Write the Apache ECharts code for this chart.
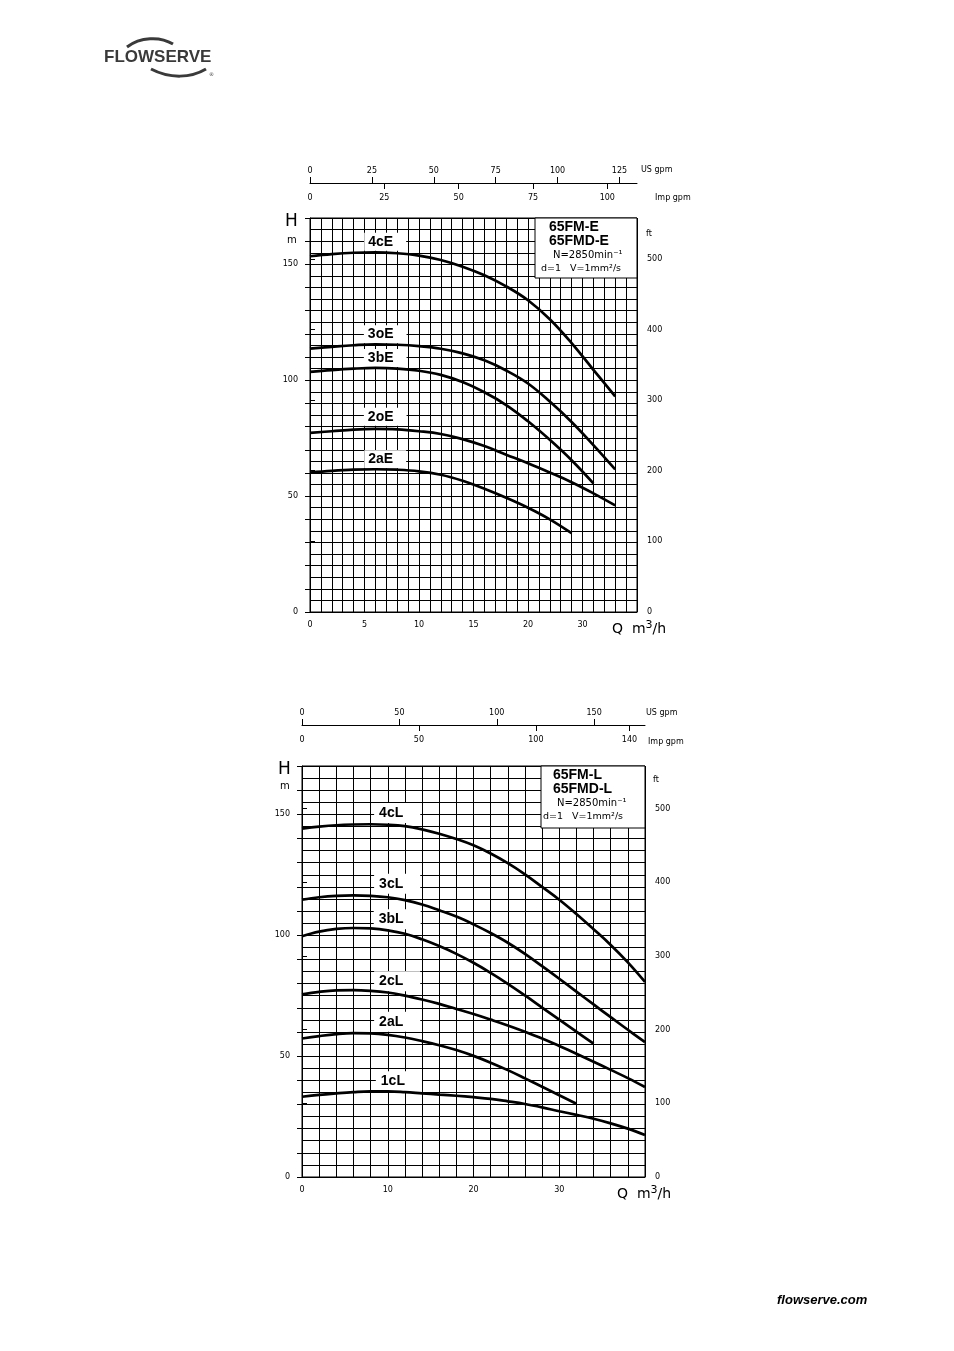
<!DOCTYPE html>
<html>
<head>
<meta charset="utf-8">
<script src="https://cdn.jsdelivr.net/npm/echarts@6/dist/echarts.min.js"></script>
<style>
html,body{margin:0;padding:0;background:#fff;}
#c{width:954px;height:1351px;}
</style>
</head>
<body>
<div id="c"></div>
<script>
// ---------- DATA ----------
// Upper chart: 65FM-E / 65FMD-E  (Q in m3/h, H in m)
const qE = [0, 2, 4, 6, 8, 10, 12, 14, 16, 18, 20, 22, 24, 26, 28];
const h4cE = [153.5, 154.4, 155.0, 155.2, 154.8, 153.8, 151.9, 149.0, 145.3, 140.5, 134.5, 126.3, 116.0, 104.5, 93.0];
const h3oE = [113.6, 114.4, 115.1, 115.5, 115.3, 114.7, 113.6, 111.6, 108.6, 104.2, 98.6, 90.8, 82.0, 72.0, 61.5];
const h3bE = [103.6, 104.4, 105.0, 105.3, 105.0, 104.1, 102.3, 99.2, 94.8, 89.3, 82.3, 74.3, 65.5, 55.5];
const h2oE = [77.3, 78.0, 78.7, 79.0, 78.8, 78.0, 76.8, 74.6, 71.6, 67.9, 64.2, 60.2, 56.0, 51.2, 46.0];
const h2aE = [60.2, 60.9, 61.4, 61.6, 61.4, 60.7, 59.2, 56.6, 53.2, 49.3, 45.0, 40.0, 34.0];
const namesE = ['4cE', '3oE', '3bE', '2oE', '2aE'];
const labelQE = [6.9, 6.9, 6.9, 6.9, 6.9];
const labelHE = [159.7, 119.8, 109.6, 84.2, 65.9];

// Lower chart: 65FM-L / 65FMD-L
const qL = [0, 2, 4, 6, 8, 10, 12, 14, 16, 18, 20, 22, 24, 26, 28, 30, 32, 34, 36, 38, 40];
const h4cL = [144.1, 144.9, 145.5, 145.8, 145.9, 145.7, 145.1, 143.8, 142.0, 139.8, 137.2, 133.8, 129.8, 125.2, 120.0, 114.7, 108.8, 102.5, 96.0, 88.8, 80.7];
const h3cL = [114.7, 115.7, 116.3, 116.5, 116.3, 115.7, 114.5, 112.7, 110.3, 107.7, 104.5, 100.9, 96.9, 92.3, 87.2, 82.0, 76.7, 71.4, 66.1, 60.9, 55.8];
const h3bL = [99.6, 101.5, 102.6, 103.0, 102.8, 102.0, 100.6, 98.3, 95.5, 92.3, 88.6, 84.4, 79.9, 75.1, 70.1, 65.1, 60.1, 55.2];
const h2cL = [75.6, 76.6, 77.2, 77.3, 77.0, 76.3, 75.0, 73.4, 71.6, 69.5, 67.4, 65.1, 62.7, 60.1, 57.3, 54.2, 51.0, 47.7, 44.3, 40.9, 37.2];
const h2aL = [57.3, 58.3, 59.1, 59.5, 59.4, 58.8, 57.7, 56.2, 54.5, 52.5, 50.1, 47.3, 44.2, 40.8, 37.3, 33.8, 30.3];
const h1cL = [33.2, 34.0, 34.6, 35.1, 35.4, 35.4, 35.1, 34.6, 34.1, 33.6, 33.0, 32.3, 31.3, 30.2, 28.8, 27.2, 25.7, 24.1, 22.2, 20.0, 17.4];
const namesL = ['4cL', '3cL', '3bL', '2cL', '2aL', '1cL'];
const labelQL = [11.1, 11.1, 11.1, 11.1, 11.1, 11.3];
const labelHL = [150.6, 121.3, 106.6, 81.0, 64.2, 39.6];

// Tick values / texts
const qTicksE = [0, 5, 10, 15, 20, 25];
const qTickTextE = ['0', '5', '10', '15', '20', '30'];
const usTicksE = [0, 25, 50, 75, 100, 125];
const impLabelsE = [0, 25, 50, 75, 100];
const impTicksE = [25, 50, 75, 100];
const qTicksL = [0, 10, 20, 30];
const usTicksL = [0, 50, 100, 150];
const impLabelsL = [0, 50, 100, 140];
const impTicksL = [50, 100, 140];
const hLabels = [0, 50, 100, 150];
const hTicks = [0, 10, 20, 30, 40, 50, 60, 70, 80, 90, 100, 110, 120, 130, 140, 150, 160, 170];
const ftTicks = [0, 100, 200, 300, 400, 500];

// unit conversions (axis ranges)
const US_GPM_PER_M3H = 4.4029;
const IMP_GPM_PER_M3H = 3.6662;
const M_PER_FT = 0.3048;
const Q_MAX_E = 30, Q_MAX_L = 40, H_MAX = 170;

// ---------- CHART ----------
const chart = echarts.init(document.getElementById('c'), null, {renderer: 'canvas', width: 954, height: 1351});
const FONT = 'DejaVu Sans';
const black = '#000';
const lblStyle = {color: black, fontSize: 8, fontFamily: FONT};
const zip = (q, h) => h.map((v, i) => [q[i], v]);

function qGridAxis(grid, max, interval, labelVals, labelTexts) {
  return {
    type: 'value', gridIndex: grid, position: 'bottom', min: 0, max: max, interval: interval,
    axisLine: {show: true, onZero: false, lineStyle: {color: black, width: 1}},
    axisTick: {show: false},
    axisLabel: Object.assign({customValues: labelVals, margin: 9,
      formatter: v => labelTexts[labelVals.indexOf(v)] ?? ''}, lblStyle),
    splitLine: {show: true, lineStyle: {color: black, width: 1}}
  };
}
function gpmAxis(grid, max, offset, labelVals, inside, showLine, tickVals) {
  return {
    type: 'value', gridIndex: grid, position: 'top', offset: offset, min: 0, max: max,
    axisLine: {show: showLine, onZero: false, lineStyle: {color: black, width: 1}},
    axisTick: {show: true, inside: inside, length: 6, customValues: tickVals, lineStyle: {color: black}},
    axisLabel: Object.assign({inside: inside, customValues: labelVals, margin: inside ? 11 : 8}, lblStyle),
    splitLine: {show: false}
  };
}
function hGridAxis(grid, interval) {
  return {
    type: 'value', gridIndex: grid, position: 'left', min: 0, max: H_MAX, interval: interval,
    axisLine: {show: true, onZero: false, lineStyle: {color: black}},
    axisTick: {show: false},
    axisLabel: {show: false},
    splitLine: {show: true, lineStyle: {color: black, width: 1}}
  };
}
function hTickAxis(grid) {
  return {
    type: 'value', gridIndex: grid, position: 'left', min: 0, max: H_MAX,
    axisLine: {show: false},
    axisTick: {show: true, length: 5, customValues: hTicks, lineStyle: {color: black}},
    axisLabel: Object.assign({customValues: hLabels, margin: 12}, lblStyle),
    splitLine: {show: false}
  };
}
function ftAxis(grid) {
  return {
    type: 'value', gridIndex: grid, position: 'right', min: 0, max: H_MAX / M_PER_FT,
    axisLine: {show: false},
    axisTick: {show: true, length: 5, customValues: ftTicks, lineStyle: {color: black}},
    axisLabel: Object.assign({customValues: ftTicks, margin: 10}, lblStyle),
    splitLine: {show: false}
  };
}

const curveStyle = {color: black, width: 2.7};
function curve(name, q, h, xi, yi) {
  return {type: 'line', name: name, xAxisIndex: xi, yAxisIndex: yi, data: zip(q, h),
    smooth: 0.4, symbol: 'none', lineStyle: curveStyle, itemStyle: {color: black}, z: 4, silent: true};
}
function labels(names, qs, hs, xi, yi, pad) {
  return {type: 'scatter', xAxisIndex: xi, yAxisIndex: yi, symbolSize: 0, z: 2, silent: true,
    itemStyle: {color: black, opacity: 1},
    data: names.map((n, i) => ({value: [qs[i], hs[i]], name: n})),
    label: {show: true, position: 'inside', formatter: p => p.name, color: black, opacity: 1,
      textBorderWidth: 0, textBorderColor: 'transparent',
      fontFamily: 'Liberation Sans', fontWeight: 'bold', fontSize: 14,
      backgroundColor: '#fff', padding: pad}};
}

const series = [
  labels(namesE, labelQE, labelHE, 0, 0, [2, 13, 2, 4]),
  curve('4cE', qE, h4cE, 0, 0), curve('3oE', qE, h3oE, 0, 0), curve('3bE', qE, h3bE, 0, 0),
  curve('2oE', qE, h2oE, 0, 0), curve('2aE', qE, h2aE, 0, 0),
  labels(namesL, labelQL, labelHL, 3, 3, [3, 17, 3, 5]),
  curve('4cL', qL, h4cL, 3, 3), curve('3cL', qL, h3cL, 3, 3), curve('3bL', qL, h3bL, 3, 3),
  curve('2cL', qL, h2cL, 3, 3), curve('2aL', qL, h2aL, 3, 3), curve('1cL', qL, h1cL, 3, 3)
];

function txt(x, y, text, size, extra) {
  return {type: 'text', x: x, y: y, z: 100,
    style: Object.assign({text: text, fill: black, fontSize: size, fontFamily: FONT, textVerticalAlign: 'middle'}, extra || {})};
}
function legendBox(x, y, w, h, l1, l2, tx, tx2) {
  return [
    {type: 'rect', z: 90, shape: {x: x, y: y, width: w, height: h}, style: {fill: '#fff', stroke: black, lineWidth: 1}},
    txt(tx, y + 9, l1, 14, {fontFamily: 'Liberation Sans', fontWeight: 'bold'}),
    txt(tx, y + 23, l2, 14, {fontFamily: 'Liberation Sans', fontWeight: 'bold'}),
    txt(tx + 4, y + 37, 'N=2850min⁻¹', 10),
    txt(tx2, y + 51, 'd=1   V=1mm²/s', 9.5)
  ];
}
function qName(x, y) {
  return {type: 'text', x: x, y: y, z: 100, style: {
    text: '{a|Q  m}{s|3}{a|/h}', fill: black, textVerticalAlign: 'middle',
    rich: {a: {fontSize: 14, fontFamily: FONT, fill: black, verticalAlign: 'bottom'},
           s: {fontSize: 11, fontFamily: FONT, fill: black, verticalAlign: 'top', padding: [0, 0, 6, 0]}}}};
}

const graphics = [].concat(
  [
    {type: 'text', x: 104, y: 57, z: 100, style: {text: 'FLOWSERVE', fill: '#3a3a3a', fontSize: 17, fontWeight: 'bold', fontFamily: 'Liberation Sans', textVerticalAlign: 'middle'}},
    {type: 'bezierCurve', z: 100, shape: {x1: 127, y1: 47, cpx1: 140, cpy1: 37, x2: 173, y2: 44, cpx2: 160, cpy2: 36}, style: {stroke: '#3a3a3a', lineWidth: 3, fill: null}},
    {type: 'bezierCurve', z: 100, shape: {x1: 151, y1: 69, cpx1: 170, cpy1: 79, x2: 206, y2: 69, cpx2: 191, cpy2: 78}, style: {stroke: '#3a3a3a', lineWidth: 3, fill: null}},
    {type: 'text', x: 209, y: 72, z: 100, style: {text: '®', fill: '#3a3a3a', fontSize: 5, fontFamily: FONT}},
    {type: 'text', x: 777, y: 1300, z: 100, style: {text: 'flowserve.com', fill: black, fontSize: 13, fontWeight: 'bold', fontStyle: 'italic', fontFamily: 'Liberation Sans', textVerticalAlign: 'middle'}}
  ],
  legendBox(535, 218, 102, 60, '65FM-E', '65FMD-E', 549, 541),
  [
    txt(285, 222, 'H', 17),
    txt(287, 240, 'm', 10),
    txt(646, 234, 'ft', 8),
    txt(641, 170, 'US gpm', 8),
    txt(655, 198, 'Imp gpm', 8),
    qName(612, 628)
  ],
  legendBox(541, 766, 104, 62, '65FM-L', '65FMD-L', 553, 543),
  [
    txt(278, 770, 'H', 17),
    txt(280, 786, 'm', 10),
    txt(653, 780, 'ft', 8),
    txt(646, 713, 'US gpm', 8),
    txt(648, 742, 'Imp gpm', 8),
    qName(617, 1193)
  ]
);

chart.setOption({
  animation: false,
  backgroundColor: '#fff',
  grid: [
    {left: 310, top: 218, width: 327, height: 394, show: true, borderColor: black, borderWidth: 1, backgroundColor: 'transparent'},
    {left: 302, top: 766, width: 343, height: 411, show: true, borderColor: black, borderWidth: 1, backgroundColor: 'transparent'}
  ],
  xAxis: [
    qGridAxis(0, Q_MAX_E, 1, qTicksE, qTickTextE),
    gpmAxis(0, Q_MAX_E * US_GPM_PER_M3H, 35, usTicksE, false, true, usTicksE),
    gpmAxis(0, Q_MAX_E * IMP_GPM_PER_M3H, 35, impLabelsE, true, false, impTicksE),
    qGridAxis(1, Q_MAX_L, 2, qTicksL, qTicksL.map(String)),
    gpmAxis(1, Q_MAX_L * US_GPM_PER_M3H, 41, usTicksL, false, true, usTicksL),
    gpmAxis(1, Q_MAX_L * IMP_GPM_PER_M3H, 41, impLabelsL, true, false, impTicksL)
  ],
  yAxis: [hGridAxis(0, 5), hTickAxis(0), ftAxis(0), hGridAxis(1, 5), hTickAxis(1), ftAxis(1)],
  series: series,
  graphic: graphics
});
</script>
</body>
</html>
